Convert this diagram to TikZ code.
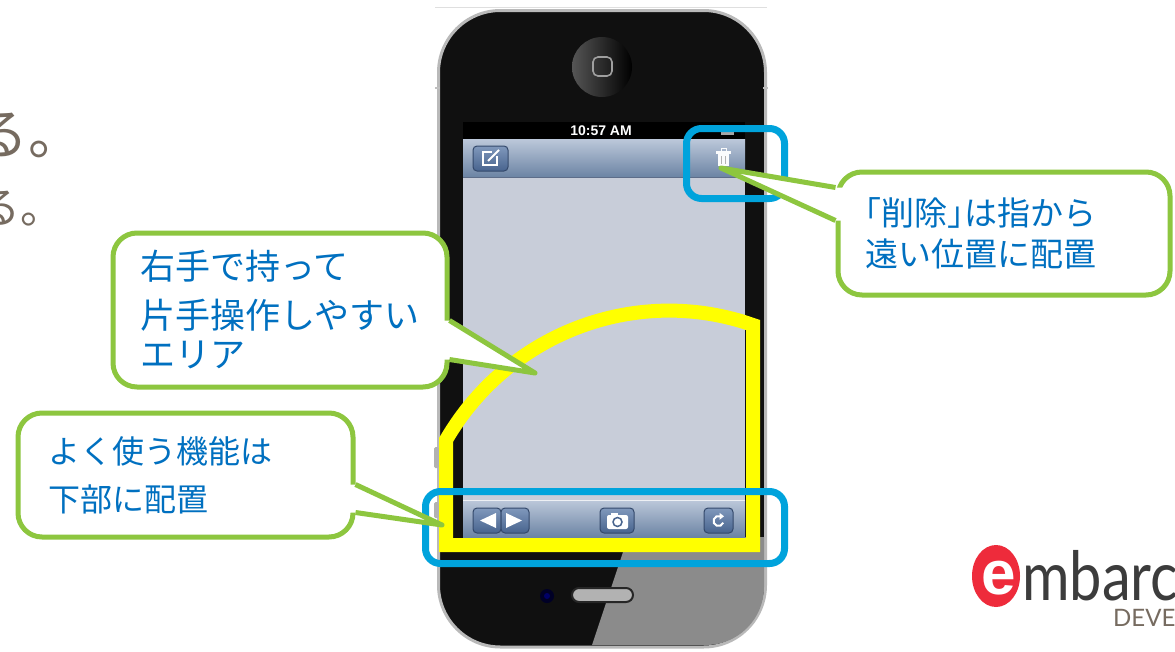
\documentclass[tikz,border=0pt]{standalone}
\usepackage{fontspec}
\setmainfont{Liberation Sans}
\newfontfamily\jpfont{Noto Sans CJK JP}
\newfontfamily\jphalt[RawFeature=+halt]{Noto Sans CJK JP}
\newfontfamily\logofont{Lato}
\usetikzlibrary{calc}

\definecolor{markblue}{RGB}{0,163,220}
\definecolor{markyellow}{RGB}{255,255,0}
\definecolor{notegreen}{RGB}{141,198,63}
\definecolor{notetext}{RGB}{0,112,192}
\definecolor{slidegray}{RGB}{118,107,96}
\definecolor{logored}{RGB}{238,43,59}
\definecolor{logodark}{RGB}{60,60,60}
\definecolor{phoneblack}{RGB}{16,16,16}
\definecolor{navtop}{RGB}{188,200,218}
\definecolor{navbottom}{RGB}{108,132,164}
\definecolor{screengray}{RGB}{200,205,217}
\definecolor{btntop}{RGB}{128,152,188}
\definecolor{btnbottom}{RGB}{72,100,142}
\definecolor{btnedge}{RGB}{52,73,107}
\definecolor{reflectgray}{RGB}{139,139,139}
\definecolor{homegray}{RGB}{85,85,85}

\begin{document}
\begin{tikzpicture}[x=1pt,y=-1pt,
    notebox/.style={draw=notegreen, fill=white, line width=5pt, rounded corners=24pt,
      text=notetext, align=left, inner sep=0pt},
    notearm/.style={draw=notegreen, line width=5pt, line join=round},
    bluebox/.style={draw=markblue, line width=7pt, rounded corners=15pt},
    yellowmark/.style={draw=markyellow, line width=14pt},
    barbutton/.style={draw=btnedge, line width=1pt, rounded corners=4pt,
      top color=btntop, bottom color=btnbottom},
    slidetext/.style={text=slidegray, inner sep=0pt, anchor=base west}]

% Page
\fill[white] (0,0) rectangle (1175,651);
\useasboundingbox (0,0) rectangle (1175,651);
\clip (0,0) rectangle (1175,651);

% Slide text cut at the left edge
\node[slidetext, font=\jpfont\fontsize{55}{55}\selectfont] (remarkone) at (-27,154) {る。};
\node[slidetext, font=\jpfont\fontsize{43}{43}\selectfont] (remarktwo) at (-23,223) {る。};

% Drawing phone body
\draw[gray!25] (435,7) -- (767,7);
\draw[draw=gray!55, line width=3pt, fill=phoneblack, rounded corners=62pt] (438.5,10.5) rectangle (765.5,647);
\fill[gray!60, rounded corners=1.5pt] (434,447) rectangle (439,468);
\fill[gray!60, rounded corners=1.5pt] (434,502) rectangle (439,518);
\draw[gray!50, line width=1.5pt] (435,88) -- (440,88);
\draw[gray!50, line width=1.5pt] (763,88) -- (768,88);

% Home button
\shade[left color=homegray, right color=black] (602,67) circle (30);
\draw[gray!75, line width=1.6pt, rounded corners=5pt] (593,57) rectangle (612,76);

% Reflection below the screen
\begin{scope}
  \clip[rounded corners=58pt] (440,12) rectangle (764,645);
  \fill[reflectgray] (628,537) -- (765,537) -- (765,651) -- (590,651) -- cycle;
\end{scope}

% Speaker and camera
\draw[draw=black!85, line width=2pt, fill=gray!60, rounded corners=7pt] (572,588) rectangle (633,602);
\fill[black!85!blue] (547,596) circle (7);
\fill[blue!40!black] (547,596) circle (3);

% Drawing screen
\fill[black] (463,122) rectangle (745,139);
\node[font=\bfseries\fontsize{14}{14}\selectfont, text=white, inner sep=0pt] (clock) at (601,131) {10:57 AM};
\fill[gray!70] (721,131) rectangle (734,135);
\shade[top color=navtop, bottom color=navbottom] (463,139) rectangle (745,177);
\draw[btnedge!80] (463,177) -- (745,177);
\fill[screengray] (463,177.5) rectangle (745,500);
\shade[top color=navtop, bottom color=navbottom] (463,500) rectangle (745,537);
\draw[white!70!screengray, line width=1pt] (463,500) -- (745,500);

% Edit button
\draw[barbutton] (473,146) rectangle (508,171);
\draw[white, line width=1.3pt] (497,156) -- (497,165) -- (483,165) -- (483,152) -- (492,152);
\draw[white, line width=2pt] (488,161) -- (499,150);

% Trash button
\fill[white!92!navtop] (718,154) rectangle (729,166);
\fill[white!92!navtop] (716,151) rectangle (731,153.5);
\draw[white!92!navtop, line width=1pt] (721,151) -- (721,148.5) -- (726,148.5) -- (726,151);
\draw[gray!60, line width=0.8pt] (721.5,156) -- (721.5,164) (725.5,156) -- (725.5,164);

% Toolbar buttons
\draw[barbutton] (473,508) rectangle (501,533);
\fill[white] (496,513) -- (496,528) -- (480,520.5) -- cycle;
\draw[barbutton] (501,508) rectangle (529,533);
\fill[white] (506,513) -- (506,528) -- (522,520.5) -- cycle;
\draw[barbutton] (600,508) rectangle (634,533);
\fill[white, rounded corners=2pt] (607,515) rectangle (628,529);
\fill[white] (611,512.5) rectangle (618,515.5);
\draw[btnbottom, line width=1.5pt] (617.5,522) circle (4.5);
\draw[barbutton] (704,508) rectangle (733,533);
\draw[white, line width=2pt] (723.2,522.7) arc[start angle=20, end angle=290, radius=5];
\fill[white] (719.5,512.8) -- (719.5,519.8) -- (724,516.3) -- cycle;

% Drawing one-hand area
\draw[yellowmark] (753,325) -- (753,545) -- (446,545) -- (446,440)
  .. controls (510,330) and (640,285) .. (753,325) -- cycle;

% Drawing blue marks
\draw[bluebox] (686.5,128.5) rectangle (784.5,198.5);
\draw[bluebox] (425.5,491.5) rectangle (784.5,563.5);

% Callout: delete
\node[notebox, minimum width=332pt, minimum height=123pt, text width=278pt,
  font=\jpfont\fontsize{33}{41}\selectfont] (deletenote) at (1004,233.5)
  {{\jphalt 「}削除{\jphalt 」}は指から\\遠い位置に配置};
\coordinate (trashtip) at (721,168);
\fill[white] ($(deletenote.north west)+(0,18)$) -- (trashtip) -- ($(deletenote.north west)+(0,51)$)
  -- ++(10,0) -- ($(deletenote.north west)+(10,18)$) -- cycle;
\draw[notearm] ($(deletenote.north west)+(0,18)$) -- (trashtip) -- ($(deletenote.north west)+(0,51)$);

% Callout: one hand
\node[notebox, minimum width=334pt, minimum height=154pt, text width=280pt,
  font=\jpfont\fontsize{35}{39}\selectfont] (holdnote) at (280,310)
  {右手で持って\\[10pt]片手操作しやすい\\エリア};
\coordinate (areatip) at (535,373);
\fill[white] ($(holdnote.north east)+(0,90)$) -- (areatip) -- ($(holdnote.north east)+(0,129)$)
  -- ++(-10,0) -- ($(holdnote.north east)+(-10,90)$) -- cycle;
\draw[notearm] ($(holdnote.north east)+(0,90)$) -- (areatip) -- ($(holdnote.north east)+(0,129)$);

% Callout: bottom bar
\node[notebox, minimum width=335pt, minimum height=124pt, text width=275pt,
  font=\jpfont\fontsize{32}{48}\selectfont] (barnote) at (185.5,475)
  {よく使う機能は\\下部に配置};
\coordinate (bartip) at (442,525);
\fill[white] ($(barnote.north east)+(0,74)$) -- (bartip) -- ($(barnote.north east)+(0,102)$)
  -- ++(-10,0) -- ($(barnote.north east)+(-10,74)$) -- cycle;
\draw[notearm] ($(barnote.north east)+(0,74)$) -- (bartip) -- ($(barnote.north east)+(0,102)$);

% Logo
\fill[logored] (996,576) ellipse (24pt and 31pt);
\node[font=\bfseries\fontsize{62}{62}\selectfont, text=white, inner sep=0pt] (logoe) at (999,578) {e};
\node[font=\logofont\fontsize{68}{68}\selectfont, text=logodark, inner sep=0pt, anchor=base west]
  (logoname) at (1022,600) {\scalebox{0.85}[1]{mbarc}};
\node[font=\logofont\fontsize{24}{24}\selectfont, text=slidegray, inner sep=0pt, anchor=base west]
  (logotag) at (1113,626) {DEVE};
\end{tikzpicture}
\end{document}
